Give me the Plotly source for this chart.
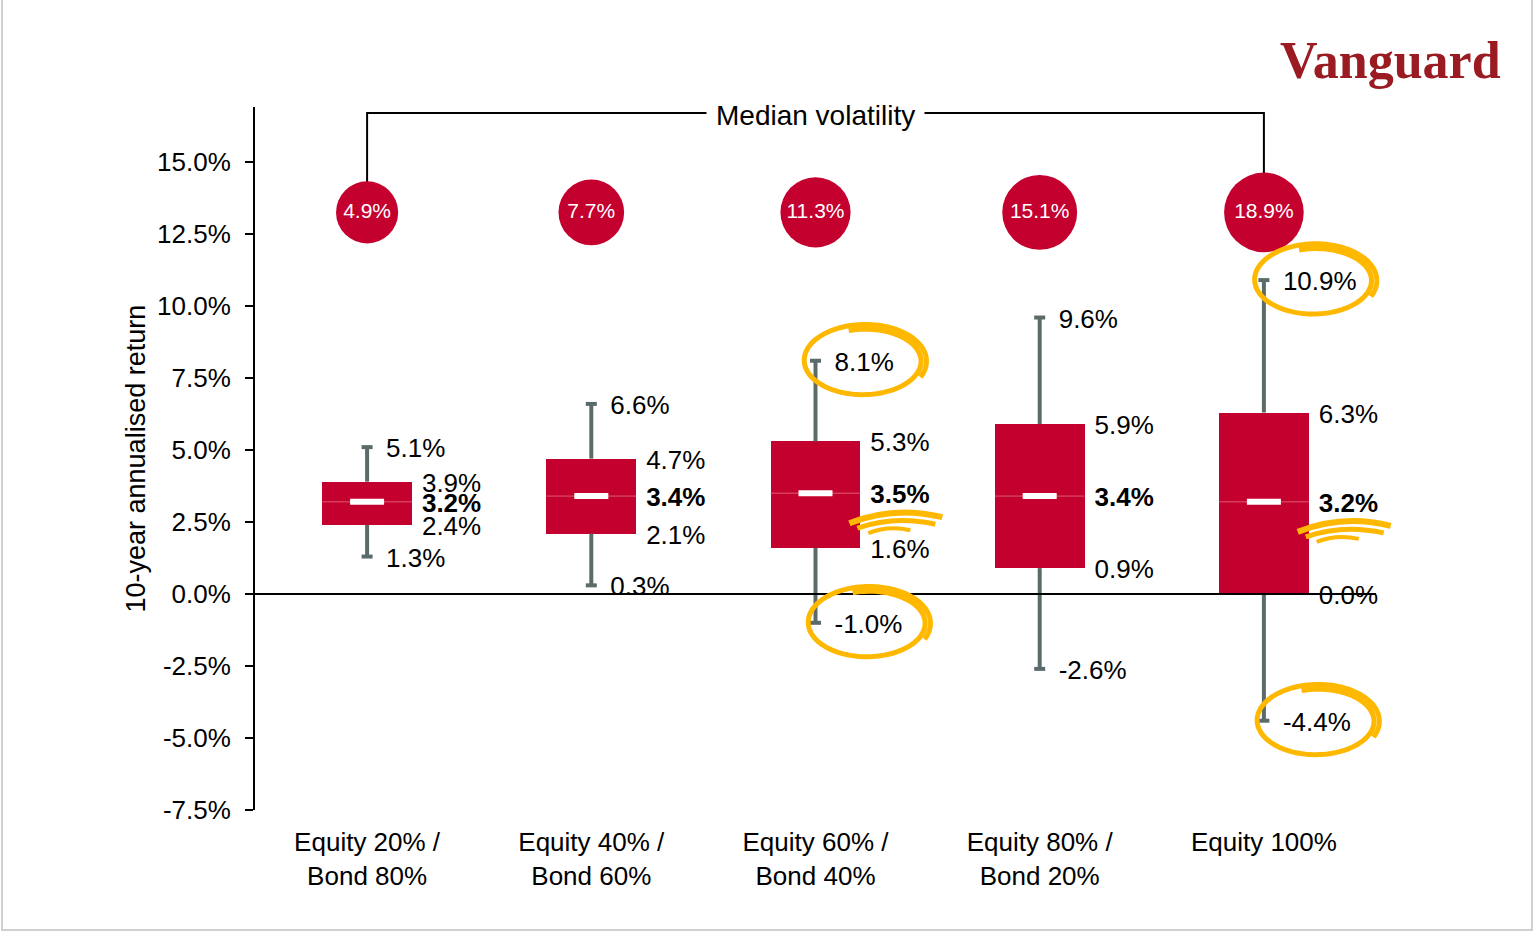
import numpy as np
import plotly.graph_objects as go

# ---------------- data ----------------
categories = ["Equity 20% /<br>Bond 80%", "Equity 40% /<br>Bond 60%", "Equity 60% /<br>Bond 40%",
              "Equity 80% /<br>Bond 20%", "Equity 100%"]
mins = [1.3, 0.3, -1.0, -2.6, -4.4]
q1s = [2.4, 2.1, 1.6, 0.9, 0.0]
medians = [3.2, 3.4, 3.5, 3.4, 3.2]
q3s = [3.9, 4.7, 5.3, 5.9, 6.3]
maxs = [5.1, 6.6, 8.1, 9.6, 10.9]
volatility = [4.9, 7.7, 11.3, 15.1, 18.9]
y_ticks = [-7.5, -5.0, -2.5, 0.0, 2.5, 5.0, 7.5, 10.0, 12.5, 15.0]
y_tick_labels = [f"{v:.1f}%" for v in y_ticks]

# ---------------- style ----------------
RED = "#c4002f"
GREY = "#5b6b6b"
GOLD = "#FFB800"
FONT = "Liberation Sans"
W, H = 1534, 932
ML, MR, MT, MB = 255, 158, 107, 122
Y_RANGE = [-7.5, 16.91]
X_RANGE = [-0.5, 4.5]
PW, PH = W - ML - MR, H - MT - MB
PX_X = PW / (X_RANGE[1] - X_RANGE[0])   # px per category unit
PX_Y = PH / (Y_RANGE[1] - Y_RANGE[0])   # px per 1%
BOX_W = 0.4
VOL_Y = 13.25
BRACKET_Y = 16.7
WHISK_DX = 19 / PX_X
BOX_DX = BOX_W / 2 + 10 / PX_X
TEXT_DY = -3.5 / PX_Y   # small optical shift of value labels
LINE_SYM = 1.4  # plotly line-ew symbols are 1.4x their size


def to_paper(xv, yv):
    return ((xv - X_RANGE[0]) / (X_RANGE[1] - X_RANGE[0]),
            (yv - Y_RANGE[0]) / (Y_RANGE[1] - Y_RANGE[0]))


x = list(range(len(categories)))
fig = go.Figure()

# whiskers (outside the box only, box sits on top)
wx, wy = [], []
for i in x:
    wx += [i, i, None, i, i, None]
    wy += [mins[i], q1s[i], None, q3s[i], maxs[i], None]
fig.add_trace(go.Scatter(x=wx, y=wy, mode="lines", line=dict(color=GREY, width=4),
                         hoverinfo="skip", showlegend=False))
fig.add_trace(go.Scatter(x=x + x, y=mins + maxs, mode="markers",
                         marker=dict(symbol="line-ew", size=11 / LINE_SYM, line=dict(color=GREY, width=4)),
                         hoverinfo="skip", showlegend=False))
# boxes
fig.add_trace(go.Bar(x=x, y=[q3s[i] - q1s[i] for i in x], base=q1s, width=BOX_W,
                     marker=dict(color=RED, line=dict(width=0)), showlegend=False))
# median thin line + white bar
fig.add_trace(go.Scatter(x=x, y=medians, mode="markers",
                         marker=dict(symbol="line-ew", size=BOX_W * PX_X / LINE_SYM,
                                     line=dict(color="#dd5a6e", width=1)),
                         hoverinfo="skip", showlegend=False))
fig.add_trace(go.Scatter(x=x, y=medians, mode="markers",
                         marker=dict(symbol="line-ew", size=34 / LINE_SYM, line=dict(color="white", width=6)),
                         hoverinfo="skip", showlegend=False))

# bracket for median volatility
fig.add_trace(go.Scatter(x=[x[0], x[0], x[-1], x[-1]], y=[VOL_Y, BRACKET_Y, BRACKET_Y, VOL_Y],
                         mode="lines", line=dict(color="black", width=2),
                         hoverinfo="skip", showlegend=False))
# volatility bubbles
fig.add_trace(go.Scatter(x=x, y=[VOL_Y] * len(x), mode="markers+text",
                         marker=dict(size=[56 + 1.25 * v for v in volatility], color=RED, opacity=1,
                                     line=dict(width=0)),
                         text=[f"{v:.1f}%" for v in volatility], textposition="middle center",
                         textfont=dict(family=FONT, size=21, color="white"),
                         hoverinfo="skip", showlegend=False))


# value labels
def label_trace(xs, ys, texts, bold=False):
    return go.Scatter(x=xs, y=[v + TEXT_DY for v in ys], mode="text",
                      text=[f"<b>{t}</b>" if bold else t for t in texts],
                      textposition="middle right", textfont=dict(family=FONT, size=26, color="black"),
                      hoverinfo="skip", showlegend=False, cliponaxis=False)


fig.add_trace(label_trace([i + WHISK_DX for i in x] * 2, maxs + mins,
                          [f"{v:.1f}%" for v in maxs + mins]))
fig.add_trace(label_trace([i + BOX_DX for i in x] * 2, q3s + q1s,
                          [f"{v:.1f}%" for v in q3s + q1s]))
fig.add_trace(label_trace([i + BOX_DX for i in x], medians,
                          [f"{v:.1f}%" for v in medians], bold=True))

# zero line above the marks
fig.add_shape(type="line", xref="paper", x0=0, x1=1, yref="y", y0=0, y1=0,
              line=dict(color="black", width=2), layer="above")


# hand-drawn gold ellipses around extreme labels (paper coords -> not clipped)
def scribble(cx, cy, rx, ry):
    t = np.linspace(0, 1, 160)
    th = -0.45 + t * (2 * np.pi + 2.3)
    rxs = rx * (1.03 - 0.12 * t)
    rys = ry * (1.05 - 0.18 * t)
    pts = [to_paper(cx + a * np.cos(b) / PX_X, cy + c * np.sin(b) / PX_Y)
           for a, b, c in zip(rxs, th, rys)]
    return "M " + " L ".join(f"{p[0]:.5f},{p[1]:.5f}" for p in pts)


for i, val, wpx in [(2, maxs[2], 59), (2, mins[2], 67), (4, maxs[4], 63), (4, mins[4], 68)]:
    cx = i + WHISK_DX + (wpx / 2) / PX_X
    fig.add_shape(type="path", xref="paper", yref="paper", path=scribble(cx, val, 61, 36),
                  line=dict(color=GOLD, width=5), layer="above")


# gold swooshes under median labels
def swoosh(x0, y0, p0, pc, p1):
    f = lambda p: to_paper(x0 + p[0] / PX_X, y0 - p[1] / PX_Y)
    a, c, b = f(p0), f(pc), f(p1)
    return f"M {a[0]:.5f},{a[1]:.5f} Q {c[0]:.5f},{c[1]:.5f} {b[0]:.5f},{b[1]:.5f}"


for i in [2, 4]:
    lx, ly = i + BOX_DX + 2 / PX_X, medians[i]
    for (p0, pc, p1, wd) in [((-23, 30), (22, 12), (70, 24), 6),
                             ((-15, 35), (22, 22), (63, 31), 5),
                             ((-4, 40), (16, 32), (38, 37), 4)]:
        fig.add_shape(type="path", xref="paper", yref="paper", path=swoosh(lx, ly, p0, pc, p1),
                      line=dict(color=GOLD, width=wd), layer="above")

# annotations
fig.add_annotation(x=2, y=BRACKET_Y, text="Median volatility", showarrow=False, yshift=-2,
                   font=dict(family=FONT, size=28, color="black"), bgcolor="white", borderpad=9)
fig.add_annotation(xref="paper", yref="paper", x=(135 - ML) / PW, y=0.5, xanchor="center",
                   yanchor="middle", text="10-year annualised return", textangle=-90, showarrow=False,
                   font=dict(family=FONT, size=27, color="black"))
fig.add_annotation(xref="paper", yref="paper", x=(1390 - ML) / PW, xanchor="center",
                   y=(H - MB - 60) / PH, yanchor="middle", text="<b>Vanguard</b>", showarrow=False,
                   font=dict(family="Liberation Serif", size=52, color="#9b1b23"))
# outer frame
fig.add_shape(type="rect", xref="paper", yref="paper",
              x0=(2 - ML) / PW, x1=(W - 2 - ML) / PW,
              y0=-(MB - 2) / PH, y1=(H - MT - 2) / PH,
              line=dict(color="#d0d0d0", width=2))

fig.update_layout(
    width=W, height=H, margin=dict(l=ML, r=MR, t=MT, b=MB),
    paper_bgcolor="white", plot_bgcolor="white", bargap=0,
    font=dict(family=FONT, size=26, color="black"),
    xaxis=dict(range=X_RANGE, tickvals=x, ticktext=categories, showline=False, showgrid=False,
               zeroline=False, ticks="", ticklabelstandoff=14),
    yaxis=dict(range=Y_RANGE, tickvals=y_ticks, ticktext=y_tick_labels,
               showline=True, linecolor="black", linewidth=2, ticks="outside", ticklen=8,
               tickwidth=2, tickcolor="black", showgrid=False, zeroline=False, ticklabelstandoff=9),
)

fig.write_html("out.html", config={"displayModeBar": False},
               post_script="document.body.style.margin='0';document.body.style.overflow='hidden';")
